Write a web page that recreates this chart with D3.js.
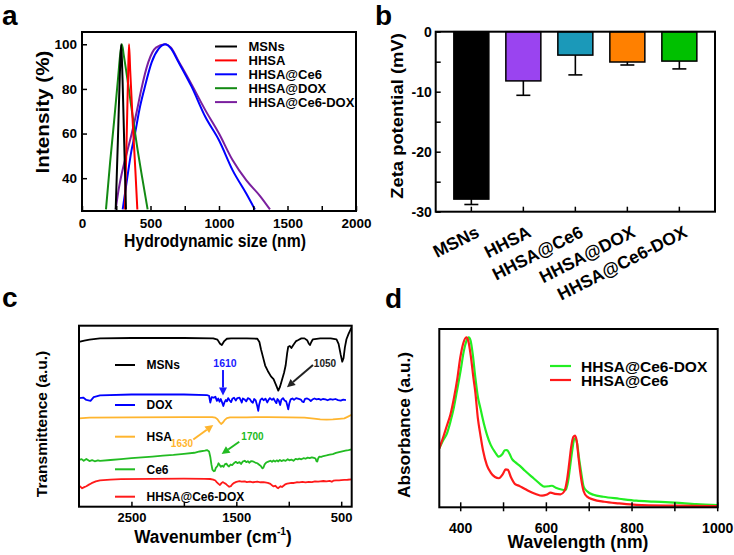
<!DOCTYPE html>
<html><head><meta charset="utf-8">
<script src="https://cdn.jsdelivr.net/npm/d3@7"></script>
<style>body{margin:0;background:#fff}</style>
</head><body>
<svg id="fig" width="734" height="555"></svg>
<script>
// ---------- Panel a: DLS size distributions (size nm, intensity %) ----------
const dlsNames = ["MSNs", "HHSA", "HHSA@Ce6", "HHSA@DOX", "HHSA@Ce6-DOX"];
const dlsMSNs = [[246,26],[262,57],[276,86],[286,100],[296,84],[308,56],[321,26]];
const dlsHHSA = [[313,26],[326,58],[336,85],[343,100],[352,88],[372,63],[390,43],[404,26]];
const dlsHHSACe6 = [[297,26],[330,40],[360,52],[387,60],[420,71],[455,80],[509,92],[560,98],[610,100],[650,98],[700,92.5],[800,81],[900,67.5],[1000,57],[1100,43.5],[1200,33],[1262,26]];
const dlsHHSADOX = [[175,26],[205,47],[235,66],[262,84],[280,96],[291,100],[305,95],[330,85],[360,72],[400,55],[440,40],[479,26]];
const dlsHHSACe6DOX = [[246,26],[265,34],[290,42],[330,52],[363,60],[400,70],[430,79],[484,92],[540,98.5],[605,100],[650,98.5],[700,93],[800,82],[900,70.5],[1000,60],[1100,48],[1200,39],[1300,32],[1372,26]];
const dlsTicks = [0,500,1000,1500,2000];
const dlsYTicks = [40,60,80,100];

// ---------- Panel b: zeta potential ----------
const zetaCats = ["MSNs","HHSA","HHSA@Ce6","HHSA@DOX","HHSA@Ce6-DOX"];
const zetaMeans = [-27.9,-8.2,-3.9,-5.05,-4.9];
const zetaErrs = [0.9,2.4,3.3,0.5,1.3];
const zetaYTicks = [0,-10,-20,-30];

// ---------- Panel c: FTIR spectra (wavenumber, transmittance a.u.) ----------
const irNames = ["MSNs","DOX","HSA","Ce6","HHSA@Ce6-DOX"];
const irMSNs = [[3000,91],[2950,91.8],[2900,92.3],[2800,93],[2500,93.2],[2000,93.2],[1720,93],[1680,92.3],[1655,90],[1638,89.3],[1615,91.5],[1590,92.8],[1550,93],[1400,93],[1300,92.8],[1280,91],[1265,87],[1245,82.5],[1225,78],[1200,75],[1170,72],[1145,70.5],[1120,67],[1100,64.1],[1085,66],[1065,70],[1045,74],[1030,78],[1015,85],[1005,88.4],[990,88.8],[975,87.7],[955,89.5],[930,91.5],[909,92.1],[880,93],[850,93],[825,92],[810,90.2],[798,89.3],[785,91],[770,92.5],[700,93],[600,93],[545,92.5],[525,90],[505,84],[490,80.1],[478,82],[465,88],[450,92.5],[430,95.5],[410,98],[400,99]];
const irDOX = [[3000,60],[2960,60.3],[2930,59],[2890,58.5],[2860,60.5],[2800,61.5],[2500,62],[2000,62],[1780,61.6],[1760,61.3],[1748,57.5],[1735,60.5],[1715,60.2],[1700,60.8],[1685,58.5],[1672,59.8],[1660,58],[1648,59.5],[1635,57.5],[1624,55.6],[1612,57.8],[1600,59],[1590,58.2],[1578,60],[1565,58.8],[1550,57.8],[1538,59.6],[1522,60.2],[1505,58.7],[1490,60],[1470,60.2],[1455,58.5],[1448,57.5],[1438,59.8],[1420,59.2],[1405,58.2],[1390,60],[1372,59.5],[1355,58],[1342,57.4],[1330,59.5],[1315,58.7],[1300,55.5],[1291,53],[1282,56.5],[1270,59],[1255,59.8],[1240,58.8],[1222,59.7],[1205,57.6],[1195,58.8],[1180,60],[1160,59],[1145,59.8],[1130,58.2],[1118,57.2],[1108,59.5],[1095,58.6],[1082,56.2],[1070,59.2],[1055,60],[1040,58.7],[1025,58.2],[1012,55.5],[1005,53.8],[995,57],[982,59.3],[965,59.8],[950,59],[930,60],[905,59.6],[885,59.2],[870,58],[858,57.8],[845,59.6],[825,59.8],[805,59.2],[790,58.4],[775,59.2],[755,59.8],[735,59.3],[715,59.6],[695,59],[675,59.5],[650,59.3],[630,58.8],[605,59.4],[580,59.1],[555,59.5],[530,58.9],[505,58.6],[480,59.2],[455,58.9]];
const irHSA = [[3000,48.8],[2900,49.2],[2500,49.4],[2000,49.5],[1730,49.5],[1700,49.2],[1680,48.3],[1662,46.8],[1645,45.7],[1628,46.5],[1612,47.8],[1590,48.9],[1560,49.3],[1400,49.4],[1200,49.5],[1000,49.4],[850,49.2],[760,48.7],[700,48.3],[640,48.1],[580,48.2],[520,48.5],[470,48.8],[440,49.6],[400,50.8]];
const irCe6 = [[3000,25.8],[2975,26.3],[2955,25.4],[2930,26.4],[2900,25.2],[2875,25.7],[2850,25.1],[2820,25.6],[2800,25.3],[2700,25.8],[2600,26.3],[2500,26.8],[2400,27.3],[2300,27.7],[2200,28.2],[2100,28.6],[2000,29.2],[1900,29.8],[1850,30.5],[1800,31],[1780,31.3],[1760,30.5],[1748,27.5],[1738,23.5],[1728,20.5],[1715,19.6],[1705,19.8],[1695,21.5],[1680,22.5],[1670,24],[1660,23.2],[1648,22],[1635,22.6],[1622,22],[1610,23.4],[1595,23.8],[1580,22.6],[1570,22.2],[1555,23.3],[1540,23],[1520,24.2],[1505,24.8],[1490,24.1],[1470,24.6],[1455,23.6],[1440,24.9],[1420,25.4],[1405,24.6],[1390,25.1],[1375,24.3],[1360,25.2],[1340,25],[1320,24.4],[1300,24],[1282,23.2],[1265,22.4],[1252,21.2],[1242,21.5],[1230,23.4],[1215,24.4],[1195,24.9],[1175,25.4],[1160,24.8],[1145,25.5],[1130,24.9],[1115,25.6],[1100,25],[1085,25.8],[1070,25.2],[1050,25.7],[1030,25.3],[1010,26.2],[995,25.6],[975,26],[955,25.4],[935,26.4],[915,26.1],[900,26.6],[880,26.2],[860,26.8],[840,26.5],[820,27.1],[800,26.8],[780,27.3],[760,27],[745,26.6],[736,25.2],[728,24.9],[720,26.6],[710,27.6],[690,27.5],[670,28],[640,28.3],[610,28.8],[580,29.1],[550,29.7],[520,30.2],[490,30.6],[460,31],[430,31.3],[400,31.7]];
const irMix = [[3000,11.5],[2985,11],[2970,10.2],[2950,10.8],[2930,11.3],[2905,12.2],[2880,13],[2840,14],[2800,14.6],[2700,15],[2600,15.2],[2300,15.4],[2000,15.5],[1800,15.4],[1750,15.3],[1720,15],[1700,14.5],[1685,13.4],[1670,12.6],[1656,12],[1642,13],[1630,13.6],[1615,13.1],[1600,12.6],[1585,11.8],[1568,11],[1552,11.4],[1538,12.4],[1520,13.2],[1500,13.7],[1470,14.1],[1450,13.8],[1420,14],[1400,13.6],[1370,13.9],[1340,13.5],[1300,13.8],[1270,13.5],[1240,13.6],[1200,13.2],[1175,12.6],[1160,11.8],[1145,11.2],[1130,11.6],[1118,11],[1108,10.4],[1100,10.2],[1090,10.8],[1078,11.3],[1065,10.9],[1050,11.6],[1035,12.3],[1015,12.7],[1000,12.9],[975,13.2],[950,13.1],[925,13.5],[900,13.4],[870,13.7],[840,13.4],[810,13.7],[780,13.6],[750,14],[720,13.8],[700,14],[670,14.2],[640,14],[610,14.3],[590,13.8],[575,14.4],[550,14.5],[520,14.6],[500,14.7],[470,14.8],[440,14.9],[400,15.1]];
const irTicks = [2500,2000,1500,1000,500];

// ---------- Panel d: UV-vis absorbance (wavelength nm, a.u.) ----------
const uvNames = ["HHSA@Ce6-DOX","HHSA@Ce6"];
const uvCe6DOX = [[350,33],[360,38],[368,41.5],[376,48],[384,56],[391,65],[400,77],[407,87.3],[413,93],[418.7,95.3],[423,93.5],[428,86],[434,73],[440,62],[446,55.5],[454,47],[461.5,40.5],[470,35],[480,31],[489,28.4],[497,29.8],[503,32],[508,32.1],[514,30],[520,27],[528,25.2],[536,23.7],[550,20.5],[570,16.3],[585,13.2],[595,11.6],[605,11.8],[613,12.1],[622,11],[635,10],[645,9.7],[651,15],[656,24],[661,33],[665,38.2],[668,38.7],[672,35.5],[676,28],[681,20],[687,11.6],[695,9],[710,7],[733,5.9],[770,4.8],[810,3.7],[850,3.2],[900,2.6],[950,1.8],[1000,1.3]];
const uvCe6 = [[350,33],[360,40],[368,46],[376,52],[384,61],[392,72],[399,84],[406,92],[413,95.3],[418,93],[424,84],[430,72],[434,64.8],[440,50],[446,40.5],[452,32],[461,23.7],[470,19.5],[480,17],[489,16.3],[498,18.5],[505,21.3],[510,21],[517,17],[527,13],[537,12],[547,10.7],[560,9],[575,7.5],[590,6.5],[600,7],[610,8.2],[620,7.5],[633,7.3],[642,9],[648,15],[653,24],[658,34],[663,39.5],[667,40.2],[671,37],[675,28],[680,18],[687,9],[695,6],[710,4.3],[735,3.1],[770,2.2],[810,1.4],[900,0.9],[1000,0.6]];
const uvTicks = [400,500,600,700,800,900,1000];
const uvLabelTicks = [400,600,800,1000];

// ---------- styling ----------
const FONT = '"Liberation Sans", Arial, Helvetica, sans-serif';
const dlsColors = ["#000000","#ff0000","#0000ff","#138a13","#7a1f9e"];
const zetaColors = ["#000000","#9a44f0","#1b99b9","#ff8000","#00c000"];
const irColors = ["#000000","#0000ff","#ffb52e","#22bb22","#ff1a1a"];
const uvColors = ["#22ee22","#ff1a1a"];

const svg = d3.select("#fig");
svg.append("rect").attr("width",734).attr("height",555).attr("fill","#fff");

function styleAxis(g, size){
  g.attr("font-family",FONT).attr("font-size",size).attr("font-weight","bold");
  g.select(".domain").remove();
  g.selectAll(".tick line").attr("stroke","#000").attr("stroke-width",1.5);
  g.selectAll(".tick text").attr("fill","#000");
}
function frame(g,x0,y0,x1,y1){
  g.append("rect").attr("x",x0).attr("y",y0).attr("width",x1-x0).attr("height",y1-y0)
   .attr("fill","none").attr("stroke","#000").attr("stroke-width",2);
}
function txt(g, s, x, y, size, opts={}){
  const t = g.append("text").attr("font-family",FONT).attr("font-weight","bold")
    .attr("font-size",size).attr("fill",opts.fill||"#000")
    .attr("text-anchor",opts.anchor||"start")
    .attr("transform",`translate(${x},${y}) rotate(${opts.rot||0}) scale(${opts.sx||1},1)`)
    .text(s);
  if(opts.dy) t.attr("dy",opts.dy);
  return t;
}
function clip(id,x0,y0,x1,y1){
  svg.append("clipPath").attr("id",id).append("rect").attr("x",x0).attr("y",y0).attr("width",x1-x0).attr("height",y1-y0);
}
function arrow(g,x1,y1,x2,y2,color){
  const a = Math.atan2(y2-y1,x2-x1), L=8, Wd=4;
  const bx = x2-L*Math.cos(a), by = y2-L*Math.sin(a);
  g.append("line").attr("x1",x1).attr("y1",y1).attr("x2",bx).attr("y2",by).attr("stroke",color).attr("stroke-width",2);
  g.append("path").attr("d",`M${x2},${y2}L${bx+Wd*Math.sin(a)},${by-Wd*Math.cos(a)}L${bx-Wd*Math.sin(a)},${by+Wd*Math.cos(a)}Z`).attr("fill",color);
}

// ================= Panel a =================
{
  const g = svg.append("g");
  const L=82,R=356,T=32,B=211;
  const x = d3.scaleLinear().domain([0,2000]).range([L,R]);
  const y = d3.scaleLinear().domain([25.3,105.5]).range([B,T]);
  clip("clipA",L,T,R,B);
  const line = d3.line().x(d=>x(d[0])).y(d=>y(d[1])).curve(d3.curveMonotoneX);
  const series = [dlsMSNs,dlsHHSA,dlsHHSACe6,dlsHHSADOX,dlsHHSACe6DOX];
  const order = [4,2,3,1,0];
  order.forEach(i=>{
    g.append("path").datum(series[i]).attr("d",line).attr("fill","none")
     .attr("stroke",dlsColors[i]).attr("stroke-width",2).attr("clip-path","url(#clipA)");
  });
  const xa = g.append("g").attr("transform",`translate(0,${B})`)
    .call(d3.axisBottom(x).tickValues(d3.range(0,2001,250)).tickSize(-5).tickPadding(7)
      .tickFormat(d=>dlsTicks.includes(d)?String(d):""));
  styleAxis(xa,13.5);
  const ya = g.append("g").attr("transform",`translate(${L},0)`)
    .call(d3.axisLeft(y).tickValues(dlsYTicks).tickSize(-5).tickPadding(5).tickFormat(d=>String(d)));
  styleAxis(ya,13.5);
  frame(g,L,T,R,B);
  dlsNames.forEach((n,i)=>{
    const yy = 46.5 + i*13.9;
    g.append("line").attr("x1",215).attr("x2",237).attr("y1",yy).attr("y2",yy).attr("stroke",dlsColors[i]).attr("stroke-width",2);
    txt(g,n,248.5,yy,13,{dy:"0.36em"});
  });
  txt(g,"Hydrodynamic size (nm)",215,247,17.5,{anchor:"middle",sx:0.9});
  txt(g,"Intensity (%)",43,112,18,{anchor:"middle",rot:-90,sx:1.15,dy:"0.36em"});
  txt(g,"a",2,25,28);
}

// ================= Panel b =================
{
  const g = svg.append("g");
  const L=435.7,R=715,T=31.7,B=211.7;
  const x = d3.scaleBand().domain(zetaCats).range([L,R]).paddingInner(0.327).paddingOuter(0.349);
  const y = d3.scaleLinear().domain([-30,0]).range([B,T]);
  zetaCats.forEach((c,i)=>{
    const v = zetaMeans[i], e = zetaErrs[i];
    const cx = x(c)+x.bandwidth()/2;
    g.append("line").attr("x1",cx).attr("x2",cx).attr("y1",y(v)).attr("y2",y(v-e)).attr("stroke","#000").attr("stroke-width",1.6);
    g.append("line").attr("x1",cx-7).attr("x2",cx+7).attr("y1",y(v-e)).attr("y2",y(v-e)).attr("stroke","#000").attr("stroke-width",1.6);
    g.append("rect").attr("x",x(c)).attr("y",y(0)).attr("width",x.bandwidth()).attr("height",y(v)-y(0))
     .attr("fill",zetaColors[i]).attr("stroke","#000").attr("stroke-width",1.5);
  });
  const ya = g.append("g").attr("transform",`translate(${L},0)`)
    .call(d3.axisLeft(y).tickValues(d3.range(-30,1,5)).tickSize(-5).tickPadding(4)
      .tickFormat(d=>zetaYTicks.includes(d)?String(d):""));
  styleAxis(ya,14);
  const xa = g.append("g").attr("transform",`translate(0,${B})`)
    .call(d3.axisBottom(x).tickSize(-5).tickFormat(""));
  styleAxis(xa,14);
  frame(g,L,T,R,B);
  zetaCats.forEach(c=>{
    const cx = x(c)+x.bandwidth()/2;
    txt(g,c,cx+9,236,17.5,{anchor:"end",rot:-27});
  });
  txt(g,"Zeta potential (mV)",397,116,16,{anchor:"middle",rot:-90,sx:1.15,dy:"0.36em"});
  txt(g,"b",375,25,28);
}

// ================= Panel c =================
{
  const g = svg.append("g");
  const L=79,R=351.7,T=325.7,B=506.7;
  const x = d3.scaleLinear().domain([3000,400]).range([L,R]);
  const y = d3.scaleLinear().domain([0,100]).range([B,T]);
  clip("clipC",L,T,R,B);
  const line = d3.line().x(d=>x(d[0])).y(d=>y(d[1]));
  const series = [irMSNs,irDOX,irHSA,irCe6,irMix];
  series.forEach((s,i)=>{
    g.append("path").datum(s).attr("d",line).attr("fill","none")
     .attr("stroke",irColors[i]).attr("stroke-width",1.8).attr("stroke-linejoin","round").attr("clip-path","url(#clipC)");
  });
  const xa = g.append("g").attr("transform",`translate(0,${B})`)
    .call(d3.axisBottom(x).tickValues(irTicks).tickSize(-5).tickPadding(6)
      .tickFormat(d=>(d===2500||d===1500||d===500)?String(d):""));
  styleAxis(xa,13);
  frame(g,L,T,R,B);
  const legY = [365,405,436.7,469.3,496.7];
  irNames.forEach((n,i)=>{
    g.append("line").attr("x1",115).attr("x2",135).attr("y1",legY[i]).attr("y2",legY[i]).attr("stroke",irColors[i]).attr("stroke-width",2);
    txt(g,n,146.5,legY[i],12,{dy:"0.36em"});
  });
  txt(g,"1610",x(1608),y(79.2),10.5,{anchor:"middle",dy:"0.36em",fill:"#1a1aff"});
  arrow(g,x(1627),y(75.5),x(1627),y(61.4),"#1a1aff");
  txt(g,"1050",x(655),y(79.2),10,{anchor:"middle",dy:"0.36em",fill:"#222"});
  arrow(g,x(769),y(78.3),x(1017),y(66),"#222");
  txt(g,"1630",x(2018),y(35),10,{anchor:"middle",dy:"0.36em",fill:"#ffb52e"});
  arrow(g,x(1910),y(37.1),x(1720),y(45.1),"#ffb52e");
  txt(g,"1700",x(1346),y(38.7),10,{anchor:"middle",dy:"0.36em",fill:"#22bb22"});
  arrow(g,x(1472),y(35.9),x(1640),y(29.1),"#22bb22");
  const xt = g.append("text").attr("font-family",FONT).attr("font-weight","bold")
    .attr("font-size",18.5).attr("text-anchor","middle").attr("fill","#000")
    .attr("transform","translate(213,543) scale(0.93,1)");
  xt.append("tspan").text("Wavenumber (cm");
  xt.append("tspan").attr("dy",-8).attr("font-size",11).text("-1");
  xt.append("tspan").attr("dy",8).text(")");
  txt(g,"Transmittence (a.u.)",41,424,15.5,{anchor:"middle",rot:-90,dy:"0.36em"});
  txt(g,"c",2,307,28);
}

// ================= Panel d =================
{
  const g = svg.append("g");
  const L=439.3,R=717.7,T=329,B=507.3;
  const x = d3.scaleLinear().domain([350,1000]).range([L,R]);
  const y = d3.scaleLinear().domain([0,100]).range([B,T]);
  clip("clipD",L,T,R,B);
  const line = d3.line().x(d=>x(d[0])).y(d=>y(d[1])).curve(d3.curveMonotoneX);
  [uvCe6DOX,uvCe6].forEach((s,i)=>{
    g.append("path").datum(s).attr("d",line).attr("fill","none")
     .attr("stroke",uvColors[i]).attr("stroke-width",2.2).attr("clip-path","url(#clipD)");
  });
  uvTicks.forEach(t=>{
    g.append("line").attr("x1",x(t)).attr("x2",x(t)).attr("y1",B-5).attr("y2",B+4).attr("stroke","#000").attr("stroke-width",1.5);
  });
  uvLabelTicks.forEach(t=>{
    txt(g,String(t),x(t),533,14,{anchor:"middle"});
  });
  frame(g,L,T,R,B);
  const legY=[366,380];
  uvNames.forEach((n,i)=>{
    g.append("line").attr("x1",550).attr("x2",571).attr("y1",legY[i]).attr("y2",legY[i]).attr("stroke",uvColors[i]).attr("stroke-width",2.2);
    txt(g,n,581,legY[i],15.5,{dy:"0.36em"});
  });
  txt(g,"Wavelength (nm)",578,548,18.5,{anchor:"middle",sx:0.95});
  txt(g,"Absorbance (a.u.)",404,425,16.5,{anchor:"middle",rot:-90,sx:1.05,dy:"0.36em"});
  txt(g,"d",385,308,28);
}
</script>
</body></html>
